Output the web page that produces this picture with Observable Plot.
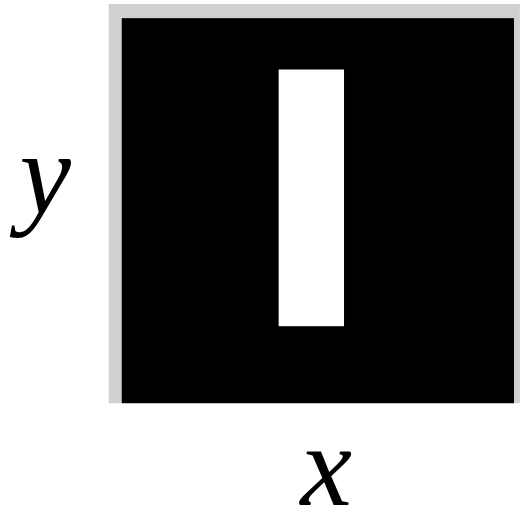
<!DOCTYPE html>
<html>
<head>
<meta charset="utf-8">
<script src="https://cdn.jsdelivr.net/npm/d3@7"></script>
<script src="https://cdn.jsdelivr.net/npm/@observablehq/plot@0.6"></script>
<style>
  html, body { margin: 0; padding: 0; background: #fff; }
</style>
</head>
<body>
<div id="chart"></div>
<script>
// Layered rectangles: light border, dark field, and a single bright bar.
const layers = ["border", "field", "bar"];
const x1s = [-0.2, 0, 2.4];
const x2s = [6.09, 6, 3.4];
const y1s = [0, 0, 1.2];
const y2s = [6.22, 6, 5.2];
const fills = ["#d0d0d0", "#000000", "#ffffff"];

// Axis names, set in large serif italic.
const axisNames = ["x ", "y "];

const cells = layers.map((name, i) => ({
  name, x1: x1s[i], x2: x2s[i], y1: y1s[i], y2: y2s[i], fill: fills[i]
}));

const nameStyle = {
  frameAnchor: "top-left",
  lineAnchor: "top",
  fontSize: 116,
  fontStyle: "italic",
  fontFamily: "Liberation Serif"
};

// The scales span the whole canvas, leaving room for the names below and to the left.
const chart = Plot.plot({
  width: 521,
  height: 510,
  x: { domain: [-1.8626, 6.092], axis: null },
  y: { domain: [-1.6485, 6.283], axis: null },
  marks: [
    Plot.rect(cells, { x1: "x1", x2: "x2", y1: "y1", y2: "y2", fill: "fill" }),
    Plot.text([axisNames[0]], { ...nameStyle, dx: 300, dy: 422 }),
    Plot.text([axisNames[1]], { ...nameStyle, dx: 19, dy: 130 })
  ]
});

document.getElementById("chart").appendChild(chart);
</script>
</body>
</html>
